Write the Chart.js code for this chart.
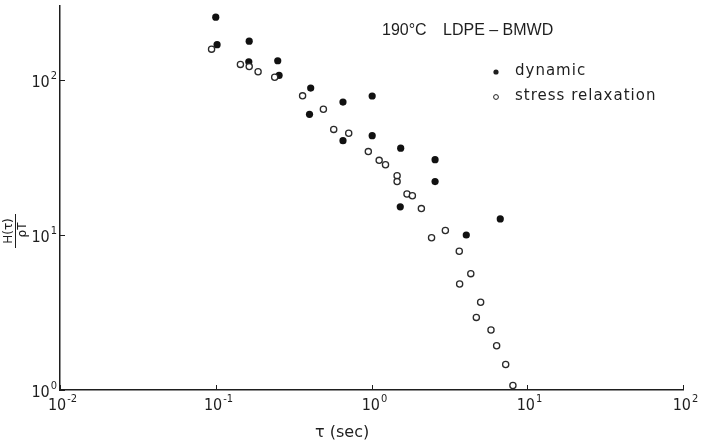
<!DOCTYPE html>
<html>
<head>
<meta charset="utf-8">
<script src="https://cdn.jsdelivr.net/npm/chart.js@4/dist/chart.umd.min.js"></script>
<style>
  html, body { margin: 0; padding: 0; background: #fff; }
  #wrap { width: 702px; height: 444px; }
</style>
</head>
<body>
<div id="wrap"><canvas id="chart"></canvas></div>
<script>
// relaxation spectrum, 190°C LDPE-BMWD
const tauDynamic = [0.10, 0.102, 0.164, 0.163, 0.25, 0.255, 0.407, 0.40, 0.656, 0.656, 1.01, 1.01, 1.54, 1.53, 2.56, 2.56, 4.06, 6.71];
const hDynamic   = [254, 169, 178, 131, 133, 107, 88.7, 60, 72, 40.6, 78.8, 43.7, 36.3, 15.2, 30.6, 22.1, 10.0, 12.7];

const tauStress = [0.094, 0.144, 0.164, 0.187, 0.239, 0.361, 0.491, 0.572, 0.714, 0.954, 1.12, 1.23, 1.46, 1.46, 1.69, 1.83, 2.09,
                   2.43, 2.98, 3.66, 4.34, 3.68, 5.02, 4.71, 5.85, 6.36, 7.27, 8.09];
const hStress   = [158, 126, 122, 113, 104, 79, 64.7, 48, 45.3, 34.5, 30.3, 28.4, 24.1, 22.1, 18.4, 17.9, 14.8,
                   9.6, 10.7, 7.85, 5.63, 4.83, 3.68, 2.94, 2.44, 1.93, 1.46, 1.07];

const xTicks = [0.01, 0.1, 1, 10, 100];
const xTickExp = ['-2', '-1', '0', '1', '2'];
const yTicks = [1, 10, 100];
const yTickExp = ['0', '1', '2'];

const seriesNames = ['dynamic', 'stress relaxation'];
const titleParts = ['190°C', 'LDPE – BMWD'];

const ink = '#1e1e1e';
const tickFont = "16px 'Liberation Sans Narrow', 'DejaVu Sans Condensed', 'Liberation Sans', sans-serif";
const expFont = "11px 'Liberation Sans Narrow', 'DejaVu Sans Condensed', 'Liberation Sans', sans-serif";
const textFont = "15px 'DejaVu Sans', sans-serif";

function toPoints(xs, ys) {
    return xs.map((x, i) => ({ x: x, y: ys[i] }));
}

// "10" with a raised exponent
function drawPower(ctx, exp, x, y, align) {
    ctx.font = tickFont;
    const wb = ctx.measureText('10').width;
    ctx.font = expFont;
    const we = ctx.measureText(exp).width;
    const total = wb + 1 + we;
    const left = align === 'center' ? x - total / 2 : x - total;
    ctx.textAlign = 'left';
    ctx.textBaseline = 'alphabetic';
    ctx.font = tickFont;
    ctx.fillText('10', left, y);
    ctx.font = expFont;
    ctx.fillText(exp, left + wb + 1, y - 8);
}

const decorations = {
    id: 'decorations',
    afterDraw(chart) {
        const { ctx, scales: { x, y } } = chart;
        ctx.save();
        ctx.fillStyle = ink;
        ctx.strokeStyle = ink;
        ctx.lineWidth = 1;

        // inward tick marks + labels
        xTicks.forEach((v, i) => {
            const px = Math.round(x.getPixelForValue(v)) + 0.5;
            ctx.beginPath();
            ctx.moveTo(px, y.bottom);
            ctx.lineTo(px, y.bottom - 5);
            ctx.stroke();
            drawPower(ctx, xTickExp[i], px + 2, y.bottom + 20, 'center');
        });
        yTicks.forEach((v, i) => {
            const py = Math.round(y.getPixelForValue(v)) + 0.5;
            ctx.beginPath();
            ctx.moveTo(x.left, py);
            ctx.lineTo(x.left + 5, py);
            ctx.stroke();
            drawPower(ctx, yTickExp[i], x.left - 3, py + 6, 'right');
        });

        // y axis title as a rotated fraction H(τ) / ρT
        ctx.save();
        ctx.translate(15, 231);
        ctx.rotate(-Math.PI / 2);
        ctx.font = "12px 'DejaVu Sans', sans-serif";
        ctx.textAlign = 'center';
        ctx.textBaseline = 'alphabetic';
        ctx.fillText('H(τ)', 0, -3);
        ctx.beginPath();
        ctx.moveTo(-17, 0.5);
        ctx.lineTo(17, 0.5);
        ctx.stroke();
        ctx.textBaseline = 'top';
        ctx.fillText('ρT', 1, 2);
        ctx.restore();

        // x axis title
        ctx.font = "16px 'DejaVu Sans', sans-serif";
        ctx.textAlign = 'left';
        ctx.textBaseline = 'middle';
        ctx.fillText('τ (sec)', 315, 433);

        // title
        ctx.font = "16px 'Liberation Sans', sans-serif";
        ctx.fillText(titleParts[0], 382, 31);
        ctx.fillText(titleParts[1], 443, 31);

        // legend
        ctx.font = textFont;
        ctx.letterSpacing = '1px';
        ctx.beginPath();
        ctx.arc(496, 72, 2.6, 0, Math.PI * 2);
        ctx.fill();
        ctx.fillText(seriesNames[0], 515, 71);
        ctx.beginPath();
        ctx.arc(496, 97, 2.4, 0, Math.PI * 2);
        ctx.lineWidth = 1;
        ctx.stroke();
        ctx.fillText(seriesNames[1], 515, 96);

        ctx.restore();
    }
};

new Chart(document.getElementById('chart'), {
    type: 'scatter',
    data: {
        datasets: [
            {
                label: seriesNames[1],
                data: toPoints(tauStress, hStress),
                pointRadius: 3.1,
                pointBorderWidth: 1.3,
                borderColor: '#2a2a2a',
                backgroundColor: '#ffffff'
            },
            {
                label: seriesNames[0],
                data: toPoints(tauDynamic, hDynamic),
                pointRadius: 3.6,
                pointBorderWidth: 0,
                borderColor: '#111',
                backgroundColor: '#111'
            }
        ]
    },
    plugins: [decorations],
    options: {
        responsive: true,
        maintainAspectRatio: false,
        animation: false,
        layout: { padding: { top: 6, right: 19, left: 0, bottom: 0 } },
        plugins: {
            legend: { display: false },
            tooltip: { enabled: false }
        },
        scales: {
            x: {
                type: 'logarithmic',
                min: 0.01,
                max: 100,
                grid: { display: false },
                border: { display: true, color: ink, width: 1.5 },
                ticks: { display: false },
                afterBuildTicks: (scale) => { scale.ticks = xTicks.map(v => ({ value: v })); },
                afterFit: (scale) => { scale.height = 54; }
            },
            y: {
                type: 'logarithmic',
                min: 1,
                max: 300,
                grid: { display: false },
                border: { display: true, color: ink, width: 1.5 },
                ticks: { display: false },
                afterBuildTicks: (scale) => { scale.ticks = yTicks.map(v => ({ value: v })); },
                afterFit: (scale) => { scale.width = 60; }
            }
        }
    }
});
</script>
</body>
</html>
